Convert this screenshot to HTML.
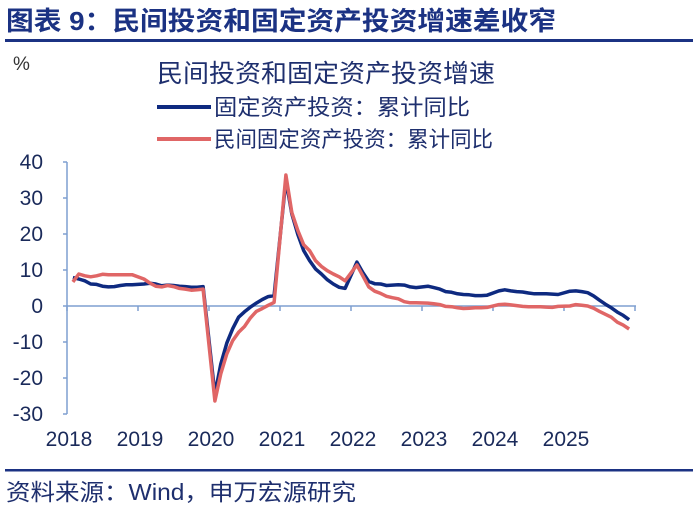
<!DOCTYPE html>
<html><head><meta charset="utf-8"><style>
body{margin:0;background:#fff;width:698px;height:508px;overflow:hidden;font-family:"Liberation Sans","Noto Sans CJK SC",sans-serif}
</style></head><body>
<svg id="s" width="698" height="508" xmlns="http://www.w3.org/2000/svg" font-family="Liberation Sans, Noto Sans CJK SC, sans-serif">
<text x="6" y="30" font-size="26" font-weight="bold" fill="#1b3283" textLength="550" lengthAdjust="spacingAndGlyphs">图表 9：民间投资和固定资产投资增速差收窄</text>
<rect x="5" y="39" width="688" height="3" fill="#1b3283"/>
<text x="13" y="70" font-size="19" fill="#333">%</text>
<text x="157" y="82" font-size="25" fill="#1e2f6e" textLength="338" lengthAdjust="spacingAndGlyphs">民间投资和固定资产投资增速</text>
<line x1="157" y1="107" x2="211" y2="107" stroke="#0e2a80" stroke-width="4"/>
<text x="214" y="115" font-size="22" fill="#1e2f6e" textLength="256" lengthAdjust="spacingAndGlyphs">固定资产投资：累计同比</text>
<line x1="157" y1="139" x2="211" y2="139" stroke="#e06666" stroke-width="4"/>
<text x="214" y="147" font-size="22" fill="#1e2f6e" textLength="279" lengthAdjust="spacingAndGlyphs">民间固定资产投资：累计同比</text>
<g id="ax" font-size="21" fill="#1a2a5a"></g>
<rect x="5" y="469" width="688" height="2.5" fill="#1b3283"/>
<text x="6" y="500" font-size="23" fill="#1e2f6e" textLength="350" lengthAdjust="spacingAndGlyphs">资料来源：Wind，申万宏源研究</text>
</svg>
<script>
var s=document.getElementById('ax'),NS='http://www.w3.org/2000/svg';
function el(t,a,txt){var e=document.createElementNS(NS,t);for(var k in a)e.setAttribute(k,a[k]);if(txt!=null)e.textContent=txt;s.appendChild(e);return e;}
function Y(v){return 306-3.6*v;}
function X(y,m){return 67+71*(y-2018+(m-1)/12);}
el('line',{x1:67,y1:162,x2:67,y2:414,stroke:'#7f9fd0','stroke-width':1.5});
for(var v=-30;v<=40;v+=10){el('line',{x1:63,y1:Y(v),x2:67,y2:Y(v),stroke:'#7f9fd0','stroke-width':1.5});el('text',{x:43,y:Y(v)+7,'text-anchor':'end'},String(v));}
el('line',{x1:67,y1:306,x2:636,y2:306,stroke:'#7f9fd0','stroke-width':1.5});
for(var k=0;k<=8;k++){var x=67+71*k;el('line',{x1:x,y1:306,x2:x,y2:311,stroke:'#7f9fd0','stroke-width':1.5});if(k<8)el('text',{x:x+2,y:446,'text-anchor':'middle'},String(2018+k));}
var A=[[7.9,7.5,7.0,6.1,6.0,5.5,5.3,5.4,5.7,5.9,5.9],[6.1,6.3,6.1,5.6,5.8,5.7,5.5,5.4,5.2,5.2,5.4],[-24.5,-16.1,-10.3,-6.3,-3.1,-1.6,-0.3,0.8,1.8,2.6,2.9],[35.0,25.6,19.9,15.4,12.6,10.3,8.9,7.3,6.1,5.2,4.9],[12.2,9.3,6.8,6.2,6.1,5.7,5.8,5.9,5.8,5.3,5.1],[5.5,5.1,4.7,4.0,3.8,3.4,3.2,3.1,2.9,2.9,3.0],[4.2,4.5,4.2,4.0,3.9,3.6,3.4,3.4,3.4,3.3,3.2],[4.1,4.2,4.0,3.7,2.8,1.6,0.5,-0.5,-1.7,-2.6,-3.8]];
var B=[[6.7,8.9,8.4,8.1,8.4,8.8,8.7,8.7,8.7,8.7,8.7],[7.5,6.4,5.5,5.3,5.7,5.4,4.9,4.7,4.4,4.5,4.7],[-26.4,-18.8,-13.3,-9.6,-7.3,-5.7,-3.3,-1.5,-0.7,0.2,1.0],[36.4,26.0,21.0,17.0,15.4,12.6,11.0,9.8,8.9,8.1,7.0],[11.4,8.4,5.3,4.1,3.5,2.7,2.3,2.0,1.2,0.9,0.9],[0.8,0.6,0.4,-0.1,-0.2,-0.5,-0.7,-0.6,-0.5,-0.5,-0.4],[0.4,0.5,0.3,0.1,-0.1,-0.2,-0.2,-0.2,-0.3,-0.4,-0.1],[0.0,0.4,0.2,0.0,-0.6,-1.5,-2.3,-3.1,-4.5,-5.3,-6.4]];
function pts(D){var p=[];for(var i=0;i<D.length;i++)for(var j=0;j<11;j++)p.push(X(2018+i,j+2).toFixed(1)+','+Y(D[i][j]).toFixed(1));return p.join(' ');}
el('polyline',{points:pts(A),fill:'none',stroke:'#0e2a80','stroke-width':3.5,'stroke-linejoin':'round'});
el('polyline',{points:pts(B),fill:'none',stroke:'#e06666','stroke-width':3.5,'stroke-linejoin':'round'});
</script>
</body></html>
